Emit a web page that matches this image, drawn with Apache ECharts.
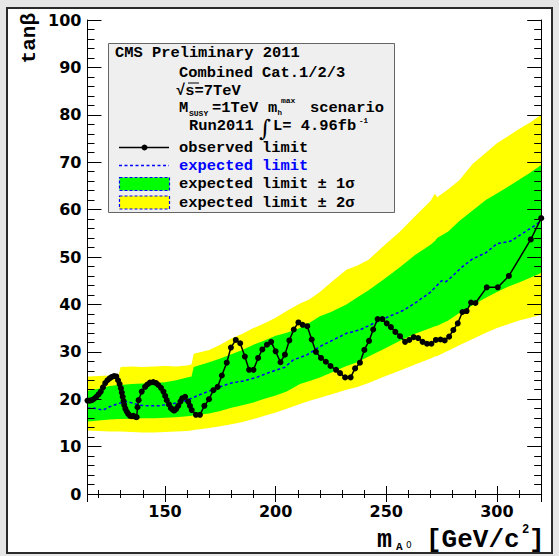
<!DOCTYPE html>
<html>
<head>
<meta charset="utf-8">
<script src="https://cdn.jsdelivr.net/npm/echarts@6/dist/echarts.min.js"></script>
<style>
  html, body { margin: 0; padding: 0; background: #e6e6e6; }
  #main { width: 559px; height: 556px; }
</style>
</head>
<body>
<div id="main"></div>
<script>
// x ticks / y ticks
var xTickLabels = [150, 200, 250, 300]
var yTickLabels = [0, 10, 20, 30, 40, 50, 60, 70, 80, 90, 100]

// observed limit
var obsMass = [115, 116, 117, 118, 119, 120, 121, 122, 123, 124, 125, 126, 127, 128, 128.8, 129.5, 130.1, 130.5, 130.9, 131.3, 131.6, 132.1, 132.7, 133.4, 134.2, 135, 135.7, 136.5, 137.2, 137.6, 138.1,
  139.5, 141, 142, 143.2, 144.7, 146, 147, 148.2, 149.3, 150.1, 150.8, 151.8, 152.7, 153.5, 154.2, 155, 156, 157, 157.8, 159.1, 160.5, 161.3, 162.1, 164, 165.8,
  167.8, 169.9, 171.9, 173.8, 175.7, 177.9, 179.8, 182, 184, 186.1, 188, 190, 192.1, 194, 196.1, 198, 200, 202.2, 204.2, 206.2, 208.2, 210.3, 212.2, 214.3,
  216.3, 218.2, 220.5, 222.7, 224.8, 227.3, 229.1, 231.4, 233.9, 235.9, 238.1, 240.1, 242.2, 244.1, 246.1, 248.2, 250.2, 252.1, 254.1, 256.2, 258.5, 260.4,
  262.4, 264.4, 266.4, 268.4, 270.4, 272.4, 274.5, 276.4, 278.4, 280.3, 282.3, 284.4, 286.3, 288.3, 290.3, 295.4, 300.4, 305.4, 315.3, 320]
var obsLimit = [19.7, 19.7, 19.8, 20.1, 20.5, 21.0, 21.6, 22.5, 23.4, 24.0, 24.4, 24.7, 24.9, 24.8, 24.0, 23.2, 22.3, 21.4, 20.5, 19.6, 18.8, 18.0, 17.4, 16.9, 16.5, 16.4, 16.5, 16.3, 16.2, 18.3, 19.8,
  21.6, 22.6, 23.1, 23.5, 23.6, 23.4, 23.0, 22.4, 21.6, 20.7, 19.8, 18.9, 18.1, 17.8, 17.6, 17.9, 18.6, 19.5, 20.2, 20.5, 19.5, 18.6, 17.7, 16.7, 16.7,
  18.6, 20.0, 21.9, 22.6, 25.0, 27.7, 30.9, 32.5, 31.8, 29.0, 26.2, 26.2, 28.7, 30.5, 31.5, 32.1, 30.1, 27.8, 29.4, 32.4, 34.7, 36.2, 35.7, 35.4,
  32.6, 30.0, 28.7, 27.9, 27.0, 26.2, 25.5, 24.6, 24.6, 26.5, 27.7, 30.4, 32.3, 34.7, 36.9, 36.9, 36.0, 35.2, 34.2, 33.3, 32.1, 32.5,
  33.1, 32.9, 32.1, 31.7, 31.7, 32.5, 32.6, 32.4, 33.2, 34.6, 36.0, 38.4, 38.6, 40.4, 40.3, 43.6, 43.6, 46.0, 53.7, 58.2]

// expected limit
var expMass = [115, 118, 122, 125, 129, 133, 138, 141, 147, 153, 158, 162, 167, 171, 176, 180, 186, 192, 198, 204, 208, 214, 220, 226, 232, 238, 246, 252, 258, 264, 270, 275, 277, 280, 284, 289, 295, 300, 306, 312, 316, 320]
var expLimit = [18.1, 18.1, 17.7, 18.4, 19.1, 19.5, 18.8, 18.6, 18.6, 19.0, 19.5, 20.2, 21.2, 21.9, 22.8, 23.4, 23.9, 24.7, 25.8, 26.7, 28.3, 29.3, 31.1, 32.5, 33.9, 34.6, 36.4, 37.6, 38.8, 40.6, 42.6, 45.0, 44.8, 46.0, 47.8, 49.6, 50.9, 52.8, 53.3, 55.1, 56.3, 57.6]

// bands (+-1 sigma, +-2 sigma)
var bandMass = [115, 120, 125, 129, 130, 135, 140, 145, 150, 155, 160, 162, 163, 170, 175, 180, 185, 190, 195, 200, 205, 211, 215, 220, 225, 232, 237, 242, 248, 256, 263, 270, 272, 273, 278, 283, 289, 295, 300, 305, 310, 315, 320]
var up2 = [24.8, 24.9, 25.0, 25.1, 26.8, 26.9, 26.8, 26.9, 27.0, 26.9, 27.1, 27.3, 29.6, 30.4, 31.5, 32.8, 33.8, 35.0, 36.0, 37.2, 38.6, 40.2, 41.0, 42.6, 44.6, 47.3, 48.2, 49.4, 52.0, 55.3, 58.6, 61.8, 63.4, 62.6, 64.3, 66.2, 69.6, 72.0, 74.0, 75.5, 77.0, 78.4, 80.0]
var up1 = [21.8, 22.2, 22.8, 23.0, 23.0, 23.2, 23.3, 23.4, 23.6, 24.0, 24.6, 24.8, 26.8, 27.8, 28.6, 29.5, 30.4, 31.5, 32.4, 33.4, 34.0, 35.0, 36.0, 37.5, 38.4, 40.0, 41.5, 43.0, 45.0, 47.8, 50.4, 52.6, 53.4, 54.0, 55.4, 57.6, 59.8, 62.0, 63.4, 64.8, 66.3, 67.8, 69.4]
var low1 = [15.3, 15.5, 15.7, 15.8, 15.8, 15.9, 16.0, 16.0, 16.1, 16.2, 16.4, 16.5, 16.6, 17.0, 17.5, 18.2, 18.7, 19.3, 20.1, 20.8, 21.6, 23.2, 23.8, 24.6, 25.6, 27.0, 27.8, 29.0, 30.4, 32.3, 33.8, 35.0, 35.4, 35.5, 36.6, 38.2, 39.8, 41.4, 42.6, 43.7, 44.6, 45.6, 46.6]
var low2 = [13.4, 13.3, 13.2, 13.2, 13.2, 13.1, 13.0, 13.0, 13.1, 13.2, 13.3, 13.4, 13.5, 13.9, 14.3, 14.7, 15.2, 15.8, 16.5, 17.2, 18.0, 19.0, 19.6, 20.3, 21.0, 22.0, 22.6, 23.4, 24.6, 26.0, 27.3, 28.6, 29.0, 29.1, 30.2, 31.4, 32.7, 34.0, 35.0, 35.8, 36.6, 37.2, 37.8]

var MONO = '"Liberation Mono", "DejaVu Sans Mono", monospace'

function pairs(xs, ys) {
  return xs.map(function (x, i) { return [x, ys[i]] })
}
// polygon between two edges, drawn once through the axis scales
function bandSeries(name, upper, lower, color) {
  return {
    name: name, type: 'custom', silent: true, z: 2,
    data: pairs(bandMass, upper),
    encode: { x: 0, y: 1 },
    renderItem: function (params, api) {
      if (params.dataIndex !== 0) return
      var pts = []
      for (var i = 0; i < bandMass.length; i++) pts.push(api.coord([bandMass[i], upper[i]]))
      for (var j = bandMass.length - 1; j >= 0; j--) pts.push(api.coord([bandMass[j], lower[j]]))
      return { type: 'polygon', shape: { points: pts }, style: { fill: color, stroke: null } }
    }
  }
}
function txt(x, y, s, size, extra) {
  var o = {
    type: 'text', x: x, y: y, z: 100,
    style: {
      text: s,
      font: 'bold ' + size + 'px ' + MONO,
      fill: '#000',
      textAlign: 'left',
      textVerticalAlign: 'middle'
    }
  }
  if (extra) Object.assign(o.style, extra)
  return o
}

var chartDom = document.getElementById('main')
var myChart = echarts.init(chartDom, null, { renderer: 'svg' })
var option

var axisFont = { fontFamily: 'DejaVu Sans', fontWeight: 'bold', fontSize: 16, color: '#000' }

option = {
  animation: false,
  backgroundColor: '#e6e6e6',
  grid: { left: 87.5, right: 17.8, top: 20, bottom: 62 },
  xAxis: [{
    type: 'value', min: 115, max: 320, position: 'bottom', z: 10,
    axisLine: { lineStyle: { color: '#000', width: 1 } },
    axisTick: { inside: true, length: 8, lineStyle: { color: '#000' } },
    minorTick: { show: true, splitNumber: 5, length: 4, lineStyle: { color: '#000' } },
    splitLine: { show: false },
    axisLabel: Object.assign({ margin: 9, showMinLabel: false, showMaxLabel: false,
      formatter: function (v) { return xTickLabels.indexOf(v) >= 0 ? String(v) : '' } }, axisFont)
  }, {
    type: 'value', min: 115, max: 320, position: 'top', z: 10,
    axisLine: { lineStyle: { color: '#000', width: 1 } },
    axisTick: { inside: true, length: 8, lineStyle: { color: '#000' } },
    minorTick: { show: true, splitNumber: 5, length: 4, lineStyle: { color: '#000' } },
    splitLine: { show: false },
    axisLabel: { show: false }
  }],
  yAxis: [{
    type: 'value', min: 0, max: 100, interval: 10, position: 'left', z: 10,
    axisLine: { show: true, lineStyle: { color: '#000', width: 1 } },
    axisTick: { show: true, inside: true, length: 14, lineStyle: { color: '#000' } },
    minorTick: { show: true, splitNumber: 5, length: 7, lineStyle: { color: '#000' } },
    splitLine: { show: false },
    axisLabel: Object.assign({ margin: 6,
      formatter: function (v) { return yTickLabels.indexOf(v) >= 0 ? String(v) : '' } }, axisFont)
  }, {
    type: 'value', min: 0, max: 100, interval: 10, position: 'right', z: 10,
    axisLine: { show: true, lineStyle: { color: '#000', width: 1 } },
    axisTick: { show: true, inside: true, length: 14, lineStyle: { color: '#000' } },
    minorTick: { show: true, splitNumber: 5, length: 7, lineStyle: { color: '#000' } },
    splitLine: { show: false },
    axisLabel: { show: false }
  }],
  series: [
    bandSeries('expected limit \u00B1 2\u03C3', up2, low2, '#ffff00'),
    bandSeries('expected limit \u00B1 1\u03C3', up1, low1, '#00ff00'),
    { name: 'expected limit', type: 'line', data: pairs(expMass, expLimit), symbol: 'none',
      lineStyle: { color: '#0000ff', width: 1.5, type: [3, 2.5] }, z: 4 },
    { name: 'observed limit', type: 'line', data: pairs(obsMass, obsLimit), symbol: 'circle', symbolSize: 6,
      itemStyle: { color: '#000' }, lineStyle: { color: '#000', width: 1.5 }, z: 5 }
  ],
  graphic: [
    // canvas frame
    { type: 'rect', z: -10, shape: { x: 7, y: 8, width: 545, height: 545 },
      style: { fill: '#fff', stroke: '#2a2a2a', lineWidth: 2 } },
    // legend box
    { type: 'rect', z: 90, shape: { x: 108.5, y: 43.5, width: 286, height: 169 },
      style: { fill: '#efefef', stroke: '#666', lineWidth: 1 } },
    txt(115, 52.5, 'CMS Preliminary 2011', 15.4),
    txt(179, 72.5, 'Combined Cat.1/2/3', 15.4),
    txt(176, 91, '\u221As=7TeV', 15.4),
    { type: 'line', z: 100, shape: { x1: 188, y1: 83, x2: 199, y2: 83 }, style: { stroke: '#000', lineWidth: 1 } },
    txt(179, 108, 'M', 15.4),
    txt(189, 113, 'SUSY', 8),
    txt(212, 108, '=1TeV', 15.4),
    txt(268, 108, 'm', 15.4),
    txt(277.5, 112.5, 'h', 7.5),
    txt(281, 100, 'max', 8),
    txt(310, 108, 'scenario', 15.4),
    txt(189, 126, 'Run2011', 15.4),
    txt(259, 127.5, '\u222B', 23, { font: '23px "DejaVu Serif", serif' }),
    txt(273, 126, 'L= 4.96fb', 15.4),
    txt(359, 120.5, '-1', 7.5),
    // legend entries
    { type: 'line', z: 100, shape: { x1: 119, y1: 147.5, x2: 169, y2: 147.5 }, style: { stroke: '#000', lineWidth: 1.5 } },
    { type: 'circle', z: 100, shape: { cx: 144.5, cy: 147.5, r: 3 }, style: { fill: '#000' } },
    txt(179, 147.5, 'observed limit', 15.4),
    { type: 'line', z: 100, shape: { x1: 119, y1: 165.5, x2: 169, y2: 165.5 },
      style: { stroke: '#0000ff', lineWidth: 1.5, lineDash: [3, 2.5] } },
    txt(179, 165.5, 'expected limit', 15.4, { fill: '#0000ff' }),
    { type: 'rect', z: 100, shape: { x: 119.5, y: 177.5, width: 50, height: 13 },
      style: { fill: '#00ff00', stroke: '#0000ff', lineWidth: 1.2, lineDash: [3, 2] } },
    txt(179, 184, 'expected limit \u00B1 1\u03C3', 15.4),
    { type: 'rect', z: 100, shape: { x: 119.5, y: 196, width: 50, height: 13 },
      style: { fill: '#ffff00', stroke: '#0000ff', lineWidth: 1.2, lineDash: [3, 2] } },
    txt(179, 202.5, 'expected limit \u00B1 2\u03C3', 15.4),
    // y axis title
    { type: 'text', z: 100, x: 29, y: 13, rotation: Math.PI / 2,
      style: { text: 'tan\u03B2', font: 'bold 21px ' + MONO, fill: '#000', textAlign: 'right', textVerticalAlign: 'middle' } },
    // x axis title
    txt(377, 540, 'm', 25),
    txt(396, 547, 'A', 11),
    txt(406, 545, '0', 9, { font: '9px "DejaVu Sans", sans-serif' }),
    txt(426, 540, '[GeV/c', 26),
    txt(522, 530, '2', 12),
    txt(529, 540, ']', 26)
  ]
}
option && myChart.setOption(option)
</script>
</body>
</html>
